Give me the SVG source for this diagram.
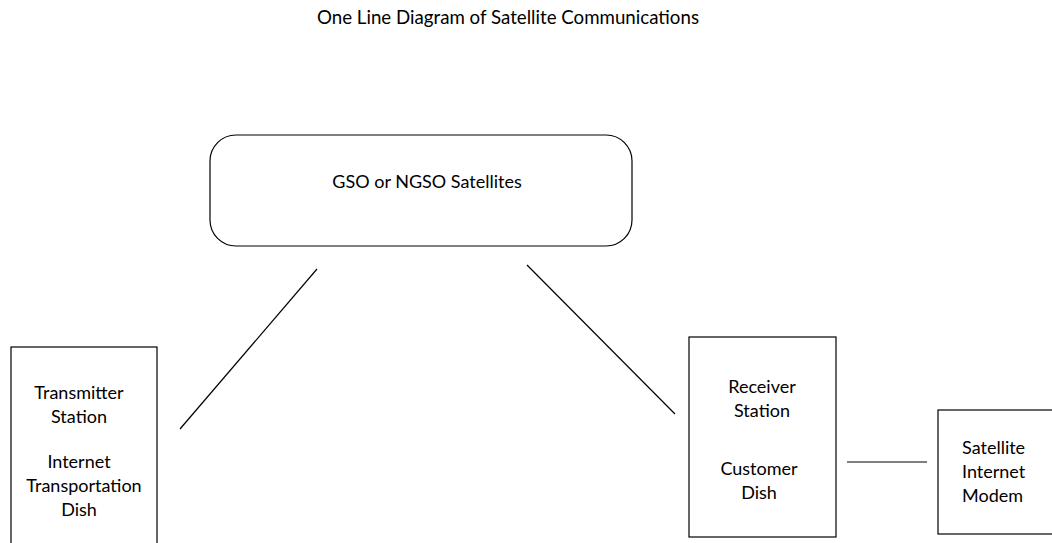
<svg xmlns="http://www.w3.org/2000/svg" width="1052" height="543" viewBox="0 0 1052 543">
<style>
.box{fill:#fff;stroke:#000;stroke-width:1.2}
.t{font-family:Lato,"Open Sans","Liberation Sans",sans-serif;font-size:18px;fill:#000}
.c{text-anchor:middle}
.ln{stroke:#000;stroke-width:1.2;fill:none}
</style>
<rect width="1052" height="543" fill="#fff"/>
<text class="t c" x="508" y="24" style="font-size:18.7px">One Line Diagram of Satellite Communications</text>
<g id="satellites">
<rect class="box" x="210" y="135" width="422" height="111" rx="26"/>
<text class="t c" x="427" y="188">GSO or NGSO Satellites</text>
</g>
<g id="transmitter">
<rect class="box" x="11" y="347" width="146" height="210"/>
<text class="t c" x="79" y="399">Transmitter</text>
<text class="t c" x="79" y="423">Station</text>
<text class="t c" x="79" y="468">Internet</text>
<text class="t c" x="84" y="492">Transportation</text>
<text class="t c" x="79" y="516">Dish</text>
</g>
<g id="receiver">
<rect class="box" x="689" y="337" width="147" height="200"/>
<text class="t c" x="762" y="393">Receiver</text>
<text class="t c" x="762" y="417">Station</text>
<text class="t c" x="759" y="475">Customer</text>
<text class="t c" x="759" y="499">Dish</text>
</g>
<g id="modem">
<rect class="box" x="938" y="410" width="130" height="124"/>
<text class="t" x="962" y="454">Satellite</text>
<text class="t" x="962" y="478">Internet</text>
<text class="t" x="962" y="502">Modem</text>
</g>
<g id="connectors">
<line class="ln" x1="180" y1="429" x2="317" y2="269"/>
<line class="ln" x1="527" y1="265" x2="675" y2="414"/>
<line class="ln" x1="847" y1="462" x2="927" y2="462"/>
</g>
</svg>
